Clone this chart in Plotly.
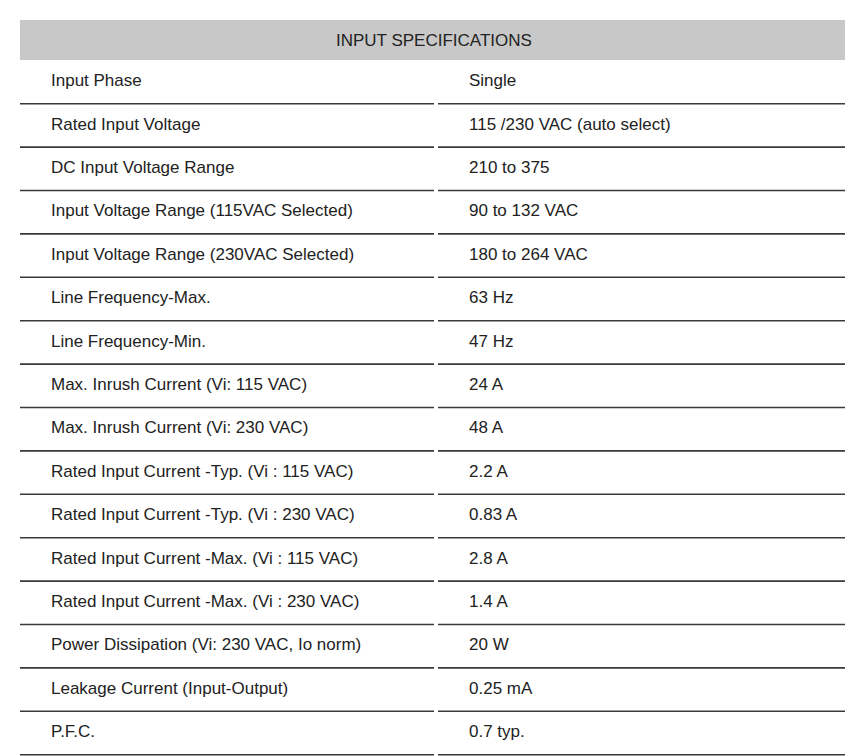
import plotly.graph_objects as go

# --- datos de la tabla ---
TITULO = 'INPUT SPECIFICATIONS'
PARAMETROS = [
    'Input Phase',
    'Rated Input Voltage',
    'DC Input Voltage Range',
    'Input Voltage Range (115VAC Selected)',
    'Input Voltage Range (230VAC Selected)',
    'Line Frequency-Max.',
    'Line Frequency-Min.',
    'Max. Inrush Current (Vi: 115 VAC)',
    'Max. Inrush Current (Vi: 230 VAC)',
    'Rated Input Current -Typ. (Vi : 115 VAC)',
    'Rated Input Current -Typ. (Vi : 230 VAC)',
    'Rated Input Current -Max. (Vi : 115 VAC)',
    'Rated Input Current -Max. (Vi : 230 VAC)',
    'Power Dissipation (Vi: 230 VAC, Io norm)',
    'Leakage Current (Input-Output)',
    'P.F.C.',
]
VALORES = [
    'Single',
    '115 /230 VAC (auto select)',
    '210 to 375',
    '90 to 132 VAC',
    '180 to 264 VAC',
    '63 Hz',
    '47 Hz',
    '24 A',
    '48 A',
    '2.2 A',
    '0.83 A',
    '2.8 A',
    '1.4 A',
    '20 W',
    '0.25 mA',
    '0.7 typ.',
]

filas = list(range(len(PARAMETROS)))
PASO = 43.4  # px por fila
ALTO, ANCHO = 756, 853
FUENTE = dict(family='Liberation Sans, Arial', size=17, color='#222222')

fig = go.Figure()
fig.add_trace(go.Scatter(x=[43] * len(filas), y=filas, text=PARAMETROS, mode='text',
                         textposition='middle right', textfont=FUENTE, hoverinfo='skip'))
fig.add_trace(go.Scatter(x=[461] * len(filas), y=filas, text=VALORES, mode='text',
                         textposition='middle right', textfont=FUENTE, hoverinfo='skip'))

# cabecera gris
fig.add_shape(type='rect', x0=12, x1=840, y0=(12 - 74) / PASO, y1=(52 - 74) / PASO,
              fillcolor='#c8c8c8', line_width=0, layer='below')
fig.add_annotation(x=426, y=(32 - 74) / PASO, text=TITULO, showarrow=False,
                   font=dict(family='Liberation Sans, Arial', size=17, color='#222222'))

# separadores bajo cada fila (con hueco entre columnas)
for i in filas:
    yl = i + 0.5
    fig.add_shape(type='line', x0=12, x1=426, y0=yl, y1=yl, line=dict(color='#3a3a3a', width=1.6))
    fig.add_shape(type='line', x0=430, x1=840, y0=yl, y1=yl, line=dict(color='#3a3a3a', width=1.6))

fig.update_layout(
    width=ANCHO, height=ALTO, margin=dict(l=0, r=0, t=0, b=0),
    plot_bgcolor='white', paper_bgcolor='white', showlegend=False,
    xaxis=dict(range=[0, ANCHO], visible=False, fixedrange=True),
    yaxis=dict(range=[(ALTO - 74) / PASO, -74 / PASO], visible=False, fixedrange=True),
)
fig.write_html('out.html')
